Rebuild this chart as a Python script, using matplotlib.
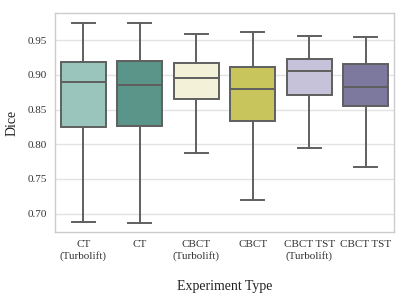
import matplotlib
matplotlib.use("Agg")
import matplotlib.pyplot as plt

categories = ["CT\n(Turbolift)", "CT", "CBCT\n(Turbolift)", "CBCT", "CBCT TST\n(Turbolift)", "CBCT TST"]
whislo = [0.6885, 0.687, 0.7875, 0.7193, 0.7940, 0.7677]
q1 = [0.825, 0.8265, 0.865, 0.8329, 0.8703, 0.8549]
med = [0.889, 0.886, 0.8948, 0.8794, 0.9053, 0.8823]
q3 = [0.919, 0.920, 0.917, 0.911, 0.9222, 0.915]
whishi = [0.975, 0.974, 0.9586, 0.962, 0.9562, 0.9539]
colors = ["#9ac5bd", "#5b9589", "#f3f2d9", "#c9c55d", "#c5c2d9", "#7c789e"]
yticks = [0.70, 0.75, 0.80, 0.85, 0.90, 0.95]

plt.rcParams['font.family'] = ['Liberation Serif', 'DejaVu Serif']

fig = plt.figure(figsize=(4.07, 3.05), dpi=100)
ax = fig.add_axes([55/407, 1 - 232/305, (394-55)/407, (232-13)/305])

stats = []
for i in range(len(categories)):
    stats.append(dict(label=categories[i], whislo=whislo[i], q1=q1[i], med=med[i],
                      q3=q3[i], whishi=whishi[i], fliers=[]))

lc = "#5f5f5f"
bp = ax.bxp(stats, positions=range(len(categories)), widths=0.8, patch_artist=True,
            showfliers=False,
            boxprops=dict(edgecolor=lc, linewidth=1.4),
            medianprops=dict(color=lc, linewidth=1.4),
            whiskerprops=dict(color=lc, linewidth=1.4),
            capprops=dict(color=lc, linewidth=1.4))
for patch, c in zip(bp['boxes'], colors):
    patch.set_facecolor(c)

ax.set_xlim(-0.5, len(categories) - 0.5)
ax.set_ylim(0.6736, 0.989)
ax.set_yticks(yticks)
ax.set_yticklabels([f"{v:.2f}" for v in yticks])
ax.set_xticks(range(len(categories)))
ax.set_xticklabels(categories)
ax.tick_params(axis='both', length=0, labelsize=8, colors="#333333", pad=6)
ax.grid(axis='y', color="#e3e3e3", linewidth=1)
ax.set_axisbelow(True)
for s in ax.spines.values():
    s.set_color("#cccccc")
    s.set_linewidth(1)

ax.set_xlabel("Experiment Type", fontsize=10, color="#222222", labelpad=14)
ax.set_ylabel("Dice", fontsize=10, color="#222222", labelpad=6)

fig.savefig("out.png", dpi=100)
